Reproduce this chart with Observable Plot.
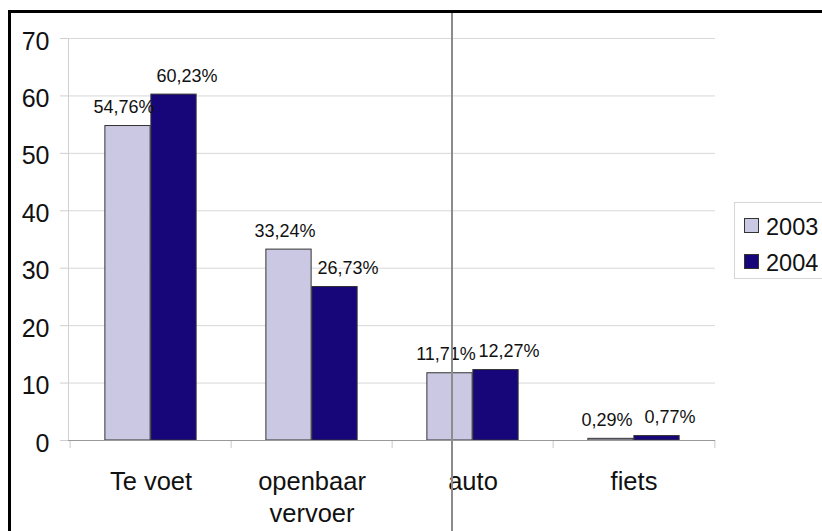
<!DOCTYPE html>
<html>
<head>
<meta charset="utf-8">
<script src="https://cdn.jsdelivr.net/npm/d3@7"></script>
<script src="https://cdn.jsdelivr.net/npm/@observablehq/plot@0.6"></script>
<style>
  html, body { margin: 0; padding: 0; background: #fff; overflow: hidden; }
  #wrap { position: relative; width: 822px; height: 531px; overflow: hidden;
          font-family: "Liberation Sans", Arial, sans-serif; background: #fff; }
  #chart { position: absolute; left: 0; top: 0; }
  #btop { position: absolute; left: 8px; top: 10px; width: 814px; height: 3px; background: #000; }
  #bleft { position: absolute; left: 8px; top: 10px; width: 3px; height: 521px; background: #000; }
  #vline { position: absolute; left: 451px; top: 13px; width: 2px; height: 518px; background: #8c8c8c; }
  #legend { position: absolute; left: 734px; top: 202px; width: 100px; height: 75px;
            border-top: 1px solid #d6d6d6; border-left: 1px solid #d6d6d6; border-bottom: 1px solid #d6d6d6;
            background: #fff; }
  .sw { position: absolute; width: 15px; height: 15px; border: 1px solid #333; box-sizing: border-box; }
  .lt { position: absolute; font-size: 23.5px; line-height: 24px; color: #111; white-space: nowrap; }
</style>
</head>
<body>
<div id="wrap">
  <div id="chart"></div>
  <div id="legend"></div>
  <div id="vline"></div>
  <div id="btop"></div>
  <div id="bleft"></div>
</div>
<script>
// ---- data ----
const categories = ["Te voet", "openbaar\nvervoer", "auto", "fiets"];
const years = ["2003", "2004"];
const values2003 = [54.76, 33.24, 11.71, 0.29];
const values2004 = [60.23, 26.73, 12.27, 0.77];
const yTicks = [0, 10, 20, 30, 40, 50, 60, 70];
const colors = ["#cac8e2", "#17067a"];

const fmt = v => v.toFixed(2).replace(".", ",") + "%";
const rows2003 = categories.map((c, i) => ({cat: c, year: years[0], value: values2003[i]}));
const rows2004 = categories.map((c, i) => ({cat: c, year: years[1], value: values2004[i]}));

const halfBand = 80.875; // half of the band step in px
const barW = 46;

const chart = Plot.plot({
  width: 822,
  height: 531,
  marginLeft: 68,
  marginRight: 107,
  marginTop: 38,
  marginBottom: 91,
  style: {fontFamily: "Liberation Sans, Arial, sans-serif", background: "transparent", color: "#111"},
  x: {domain: categories, paddingInner: 0, paddingOuter: 0, label: null},
  y: {domain: [0, 70], label: null},
  marks: [
    Plot.gridY(yTicks, {stroke: "#d8d8d8", strokeOpacity: 1}),
    Plot.axisY(yTicks, {tickSize: 8, text: null, stroke: "#cfcfcf", label: null}),
    Plot.axisY(yTicks, {tickSize: 0, tickPadding: 19, fontSize: 25, dy: 3, fill: "#111", label: null}),
    Plot.frame({anchor: "left", stroke: "#d0d0d0"}),
    // category boundary ticks below the axis
    Plot.ruleX(categories, {x: d => d, dx: -halfBand, y1: 0, y2: 1.4, dy: 8, stroke: "#c8c8c8"}),
    Plot.ruleX(categories.slice(-1), {x: d => d, dx: halfBand, y1: 0, y2: 1.4, dy: 8, stroke: "#c8c8c8"}),
    Plot.barY(rows2003, {x: "cat", y: "value", fill: colors[0], stroke: "#333", strokeWidth: 1,
      insetLeft: halfBand - barW, insetRight: halfBand}),
    Plot.barY(rows2004, {x: "cat", y: "value", fill: colors[1], stroke: "#333", strokeWidth: 1,
      insetLeft: halfBand, insetRight: halfBand - barW}),
    Plot.ruleY([0], {stroke: "#9a9a9a"}),
    Plot.text(rows2003, {x: "cat", y: "value", text: d => fmt(d.value), dx: -27, dy: -13,
      lineAnchor: "bottom", fontSize: 18, fill: "#111"}),
    Plot.text(rows2004, {x: "cat", y: "value", text: d => fmt(d.value), dx: 36, dy: -13,
      lineAnchor: "bottom", fontSize: 18, fill: "#111"}),
    Plot.axisX({tickSize: 0, tickPadding: 27, fontSize: 25.5, lineHeight: 1.24, fill: "#111", label: null})
  ]
});
document.getElementById("chart").appendChild(chart);

// ---- legend ----
const legend = document.getElementById("legend");
years.forEach((yr, i) => {
  const sw = document.createElement("div");
  sw.className = "sw";
  sw.style.left = "9px";
  sw.style.top = (15 + i * 36) + "px";
  sw.style.background = colors[i];
  legend.appendChild(sw);
  const t = document.createElement("div");
  t.className = "lt";
  t.style.left = "31px";
  t.style.top = (12 + i * 36) + "px";
  t.textContent = yr;
  legend.appendChild(t);
});
</script>
</body>
</html>
